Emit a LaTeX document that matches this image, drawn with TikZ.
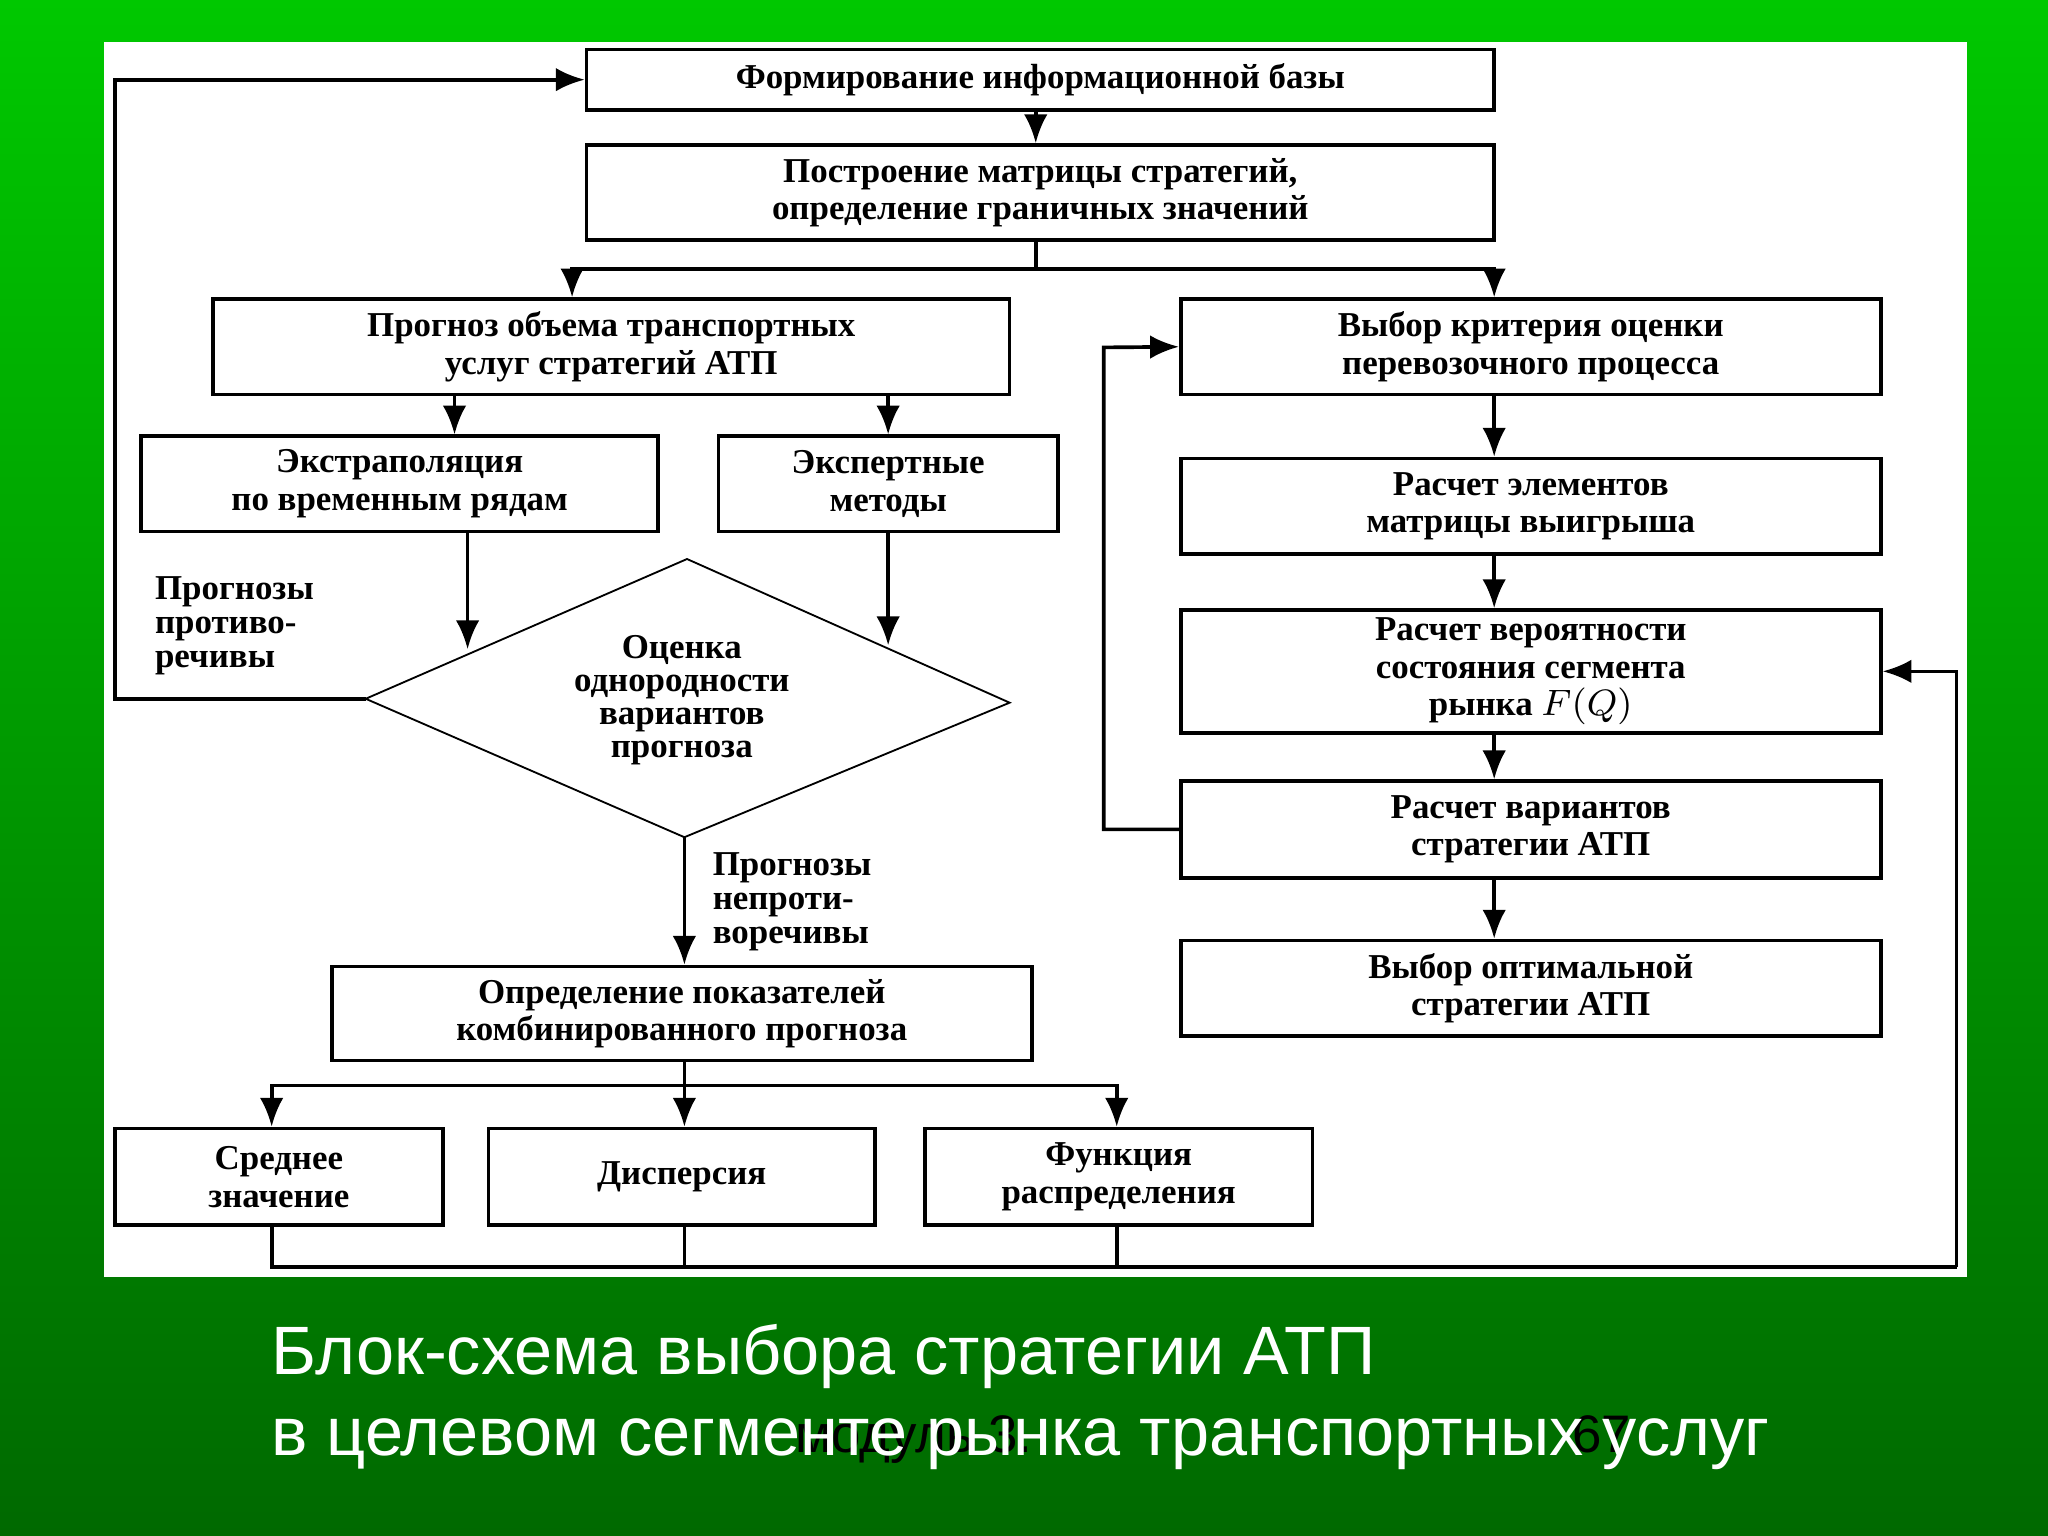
\documentclass[tikz,border=0pt]{standalone}
\usepackage{fontspec}
\setmainfont{Liberation Serif}
\newfontfamily\sansfam{Liberation Sans}
\usetikzlibrary{arrows.meta}
\tikzset{%
  blk/.style  = {shape=rectangle, draw, thick, align=center, inner sep=1pt,%
                 font=\fontsize{7.6}{8.2}\selectfont\bfseries},%
  cond/.style = {align=center, inner sep=0pt,%
                 font=\fontsize{7.6}{7.2}\selectfont\bfseries},%
  note/.style = {align=left, anchor=north west, inner sep=0pt,%
                 font=\fontsize{7.6}{7.4}\selectfont\bfseries},%
  arr/.style  = {thick, -{Latex[length=2.2mm,width=1.8mm]}},%
  ln/.style   = {thick}%
}
\newcommand{\bx}[6]{% name, x1, y1, x2, y2, text
  \node[blk, minimum width={(#4-#2)*0.01cm}, minimum height={(#5-#3)*0.01cm}]
    (#1) at ({(#2+#4)/2}, {(#3+#5)/2}) {#6};}
\begin{document}
\begin{tikzpicture}[x=0.01cm, y=-0.01cm]
  \shade[top color={rgb,255:red,0;green,200;blue,0}, bottom color={rgb,255:red,0;green,105;blue,0}]
    (0,0) rectangle (1568,1176);
  \useasboundingbox (0,0) rectangle (1568,1176);
  \fill[white] (80,32) rectangle (1506,978);
  % upper part
  \bx{info}{449}{38}{1144}{84}{Формирование информационной базы}
  \bx{matr}{449}{111}{1144}{184}{Построение матрицы стратегий,\\определение граничных значений}
  \bx{prog}{163}{229}{773}{302}{Прогноз объема транспортных\\услуг стратегий АТП}
  \bx{crit}{904}{229}{1440}{302}{Выбор критерия оценки\\перевозочного процесса}
  \bx{extr}{108}{334}{504}{407}{Экстраполяция\\по временным рядам}
  \bx{expt}{550}{334}{810}{407}{Экспертные\\методы}
  % diamond
  \coordinate (dl) at (280,535);
  \coordinate (dr) at (773,538);
  \coordinate (dt) at (526,428);
  \coordinate (db) at (524,641);
  \draw (dl) -- (dt) -- (dr) -- (db) -- cycle;
  \node[cond] (homo) at (522,536) {Оценка\\однородности\\вариантов\\прогноза};
  \bx{comb}{254}{740}{790}{812}{Определение показателей\\комбинированного прогноза}
  \bx{mean}{88}{864}{339}{938}{Среднее\\значение}
  \bx{disp}{374}{864}{670}{938}{Дисперсия}
  \bx{func}{708}{864}{1005}{938}{Функция\\распределения}
  % right column
  \bx{gain}{904}{351}{1440}{424}{Расчет элементов\\матрицы выигрыша}
  \bx{prob}{904}{467}{1440}{561}{Расчет вероятности\\состояния сегмента\\рынка $F(Q)$}
  \bx{vars}{904}{598}{1440}{672}{Расчет вариантов\\стратегии АТП}
  \bx{best}{904}{720}{1440}{793}{Выбор оптимальной\\стратегии АТП}
  \coordinate (s1) at (793,206);
  \coordinate (s2) at (524,831);
  \coordinate (s3) at (1498,970);
  \coordinate (rc) at (1144,0);
  \coordinate (lc) at (88,535);
  % connectors
  \draw[arr] (info.south -| s1) -- (matr.north -| s1);
  \draw[ln] (matr.south -| s1) -- (s1);
  \draw[arr] (s1) -| (prog.north -| 438,0);
  \draw[arr] (s1) -| (crit.north -| rc);
  \draw[arr] (prog.south -| 348,0) -- (extr.north -| 348,0);
  \draw[arr] (prog.south -| 680,0) -- (expt.north -| 680,0);
  \draw[arr] (extr.south -| 358,0) -- (358,497);
  \draw[arr] (expt.south -| 680,0) -- (680,494);
  \draw[arr] (dl) -- (lc) |- (info.west);
  \draw[arr] (db) -- (comb.north -| db);
  \draw[ln] (comb.south -| s2) -- (s2);
  \draw[arr] (s2) -| (mean.north -| 208,0);
  \draw[arr] (s2) -- (disp.north -| s2);
  \draw[arr] (s2) -| (func.north -| 855,0);
  \draw[ln] (mean.south -| 208,0) |- (s3);
  \draw[ln] (disp.south -| s2) -- (s2 |- s3);
  \draw[ln] (func.south -| 855,0) -- (855,970);
  \draw[arr] (s3) |- (prob.east);
  \draw[arr] (crit.south -| rc) -- (gain.north -| rc);
  \draw[arr] (gain.south -| rc) -- (prob.north -| rc);
  \draw[arr] (prob.south -| rc) -- (vars.north -| rc);
  \draw[arr] (vars.south -| rc) -- (best.north -| rc);
  \draw[arr] (vars.west) -| (845,266) -- (crit.west);
  % labels
  \node[note] (contr) at (118,441) {Прогнозы\\противо-\\речивы};
  \node[note] (ncontr) at (545,652) {Прогнозы\\непроти-\\воречивы};
  \node[anchor=north west, inner sep=0pt, font=\sansfam\fontsize{11.5}{11.5}\selectfont]
    (page) at (608,1083) {модуль 3.};
  \node[anchor=north west, inner sep=0pt, font=\sansfam\fontsize{11.5}{11.5}\selectfont]
    (num) at (1203,1083) {67};
  \node[anchor=north west, align=left, inner sep=0pt, text=white,
        font=\sansfam\fontsize{14.9}{17.8}\selectfont] (title) at (207,1013)
    {Блок-схема выбора стратегии АТП\\в целевом сегменте рынка транспортных услуг};
\end{tikzpicture}
\end{document}
